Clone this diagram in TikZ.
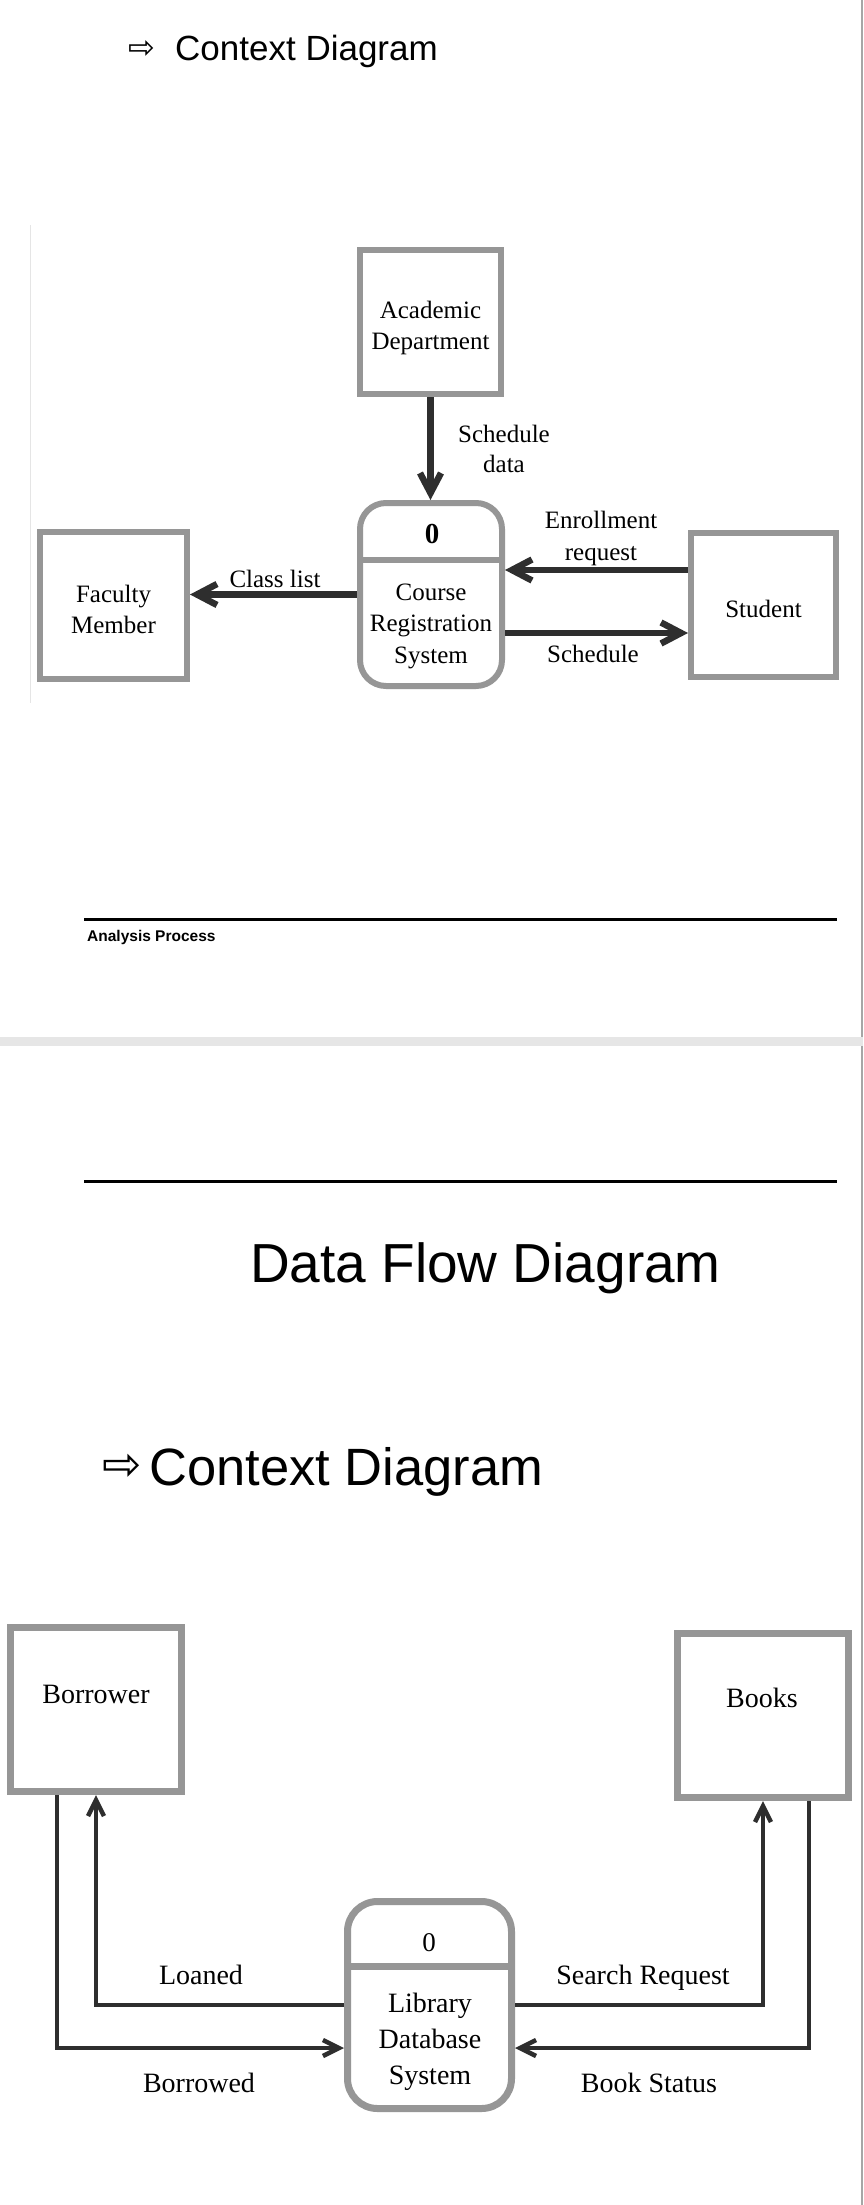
\documentclass[tikz,border=0pt]{standalone}
\usepackage{fontspec}
\setmainfont{Liberation Serif}
\newfontfamily\headfont{Liberation Sans}
\newfontfamily\symfont{DejaVu Sans}
\usetikzlibrary{arrows.meta}
\definecolor{boxgray}{HTML}{969696}
\definecolor{flowgray}{HTML}{2E2E2E}
\definecolor{bandgray}{HTML}{E6E6E6}
\newcommand{\fsz}[2]{\fontsize{#1}{#2}\selectfont}

\begin{document}
\begin{tikzpicture}[x=1pt, y=-1pt,
    ent/.style={rectangle, draw=boxgray, line width=6pt, fill=white, align=center, inner sep=0pt, text height=55.5pt, text depth=0pt, font=\fsz{25}{31}},
    proc/.style={rectangle, rounded corners=26pt, draw=boxgray, line width=6pt, fill=white, inner sep=0pt},
    txt/.style={anchor=base, align=center, inner sep=0pt, font=\fsz{25}{31}},
    flow/.style={draw=flowgray, line width=6.5pt, -{Straight Barb[length=20pt,width=21pt]}},
    ent2/.style={rectangle, draw=boxgray, line width=7pt, fill=white, inner sep=0pt},
    proc2/.style={rectangle, rounded corners=30pt, draw=boxgray, line width=7pt, fill=white, inner sep=0pt},
    txt2/.style={anchor=base, align=center, inner sep=0pt, font=\fsz{28}{36}},
    flow2/.style={draw=flowgray, line width=4.5pt, -{Straight Barb[length=16pt,width=16pt]}},
    hd/.style={anchor=base west, inner sep=0pt},
    bul/.style={inner sep=0pt}]

    \useasboundingbox (0,0) rectangle (863,2205);
    \fill[white] (0,0) rectangle (863,2205);
    \draw[gray!70, line width=2pt] (861.5,0) -- (861.5,2205);
    \fill[bandgray] (0,1037) rectangle (863,1046);

    \node[bul, font=\symfont\fsz{32}{32}] (bul1) at (141.5,50) {⇨};
    \node[hd, font=\headfont\fsz{35}{40}] (ctx1) at (175,61) {Context Diagram};

    \draw[gray!20, line width=1pt] (30,225) -- (30,703);

    \node[ent, minimum width=141pt, minimum height=144pt] (ad) at (430.5,322) {Academic\\Department};
    \node[ent, minimum width=147pt, minimum height=147pt] (fm) at (113.5,605.5) {Faculty\\Member};
    \node[ent, minimum width=145pt, minimum height=144pt, text height=24pt] (st) at (763.5,605) {Student};
    \node[proc, minimum width=142pt, minimum height=183pt] (crs) at (431,594.5) {};
    \draw[boxgray, line width=6pt] (crs.west |- 0,560) -- (crs.east |- 0,560);
    \node[txt, font=\bfseries\fsz{29}{29}] (crsn) at (432,543) {0};
    \node[txt, font=\fsz{25}{31.5}] (crsl) at (431,663) {Course\\Registration\\System};

    \draw[flow] (ad.south) -- (ad.south |- crs.north);
    \draw[flow] (crs.west) -- (crs.west -| fm.east);
    \draw[flow] ([yshift=35pt]st.west) -- ([yshift=35pt]st.west -| crs.east);
    \draw[flow] ([yshift=-38.5pt]crs.east) -- ([yshift=-38.5pt]crs.east -| st.west);

    \node[txt, font=\fsz{25}{30}] (sdl) at (504,472) {Schedule\\data};
    \node[txt] (cll) at (275,587) {Class list};
    \node[txt, font=\fsz{25}{32}] (erl) at (601,560) {Enrollment\\request};
    \node[txt] (scl) at (593,662) {Schedule};

    \draw[line width=3.5pt] (84,919.3) -- (837,919.3);
    \node[hd, font=\headfont\bfseries\fsz{15.5}{18}] (ftr) at (87,941) {Analysis Process};

    \draw[line width=3.5pt] (84,1181.7) -- (837,1181.7);
    \node[hd, font=\headfont\fsz{55}{60}] (dfd) at (250,1282) {Data Flow Diagram};

    \node[bul, font=\symfont\fsz{47}{47}] (bul2) at (122,1467) {⇨};
    \node[hd, font=\headfont\fsz{52.5}{60}] (ctx2) at (149,1485) {Context Diagram};

    \node[ent2, minimum width=171pt, minimum height=164pt] (bw) at (96,1709.5) {};
    \node[txt2] (bwl) at (96,1703) {Borrower};
    \node[ent2, minimum width=171pt, minimum height=164pt] (bk) at (763,1715.5) {};
    \node[txt2] (bkl) at (762,1707) {Books};
    \node[proc2, minimum width=164pt, minimum height=207pt] (lds) at (429.5,2005) {};
    \draw[boxgray, line width=7pt] (lds.west |- 0,1966) -- (lds.east |- 0,1966);
    \node[txt2, font=\fsz{27}{27}] (ldsn) at (429,1951) {0};
    \node[txt2] (ldsl) at (430,2084) {Library\\Database\\System};

    \draw[flow2] (lds.west) -| (bw.south);
    \draw[flow2] ([xshift=-39pt]bw.south) |- ([yshift=-43pt]lds.west);
    \draw[flow2] (lds.east) -| (bk.south);
    \draw[flow2] ([xshift=46pt]bk.south) |- ([yshift=-43pt]lds.east);

    \node[txt2] (lnl) at (201,1984) {Loaned};
    \node[txt2] (bdl) at (199,2092) {Borrowed};
    \node[txt2] (srl) at (643,1984) {Search Request};
    \node[txt2] (bsl) at (649,2092) {Book Status};
\end{tikzpicture}
\end{document}
